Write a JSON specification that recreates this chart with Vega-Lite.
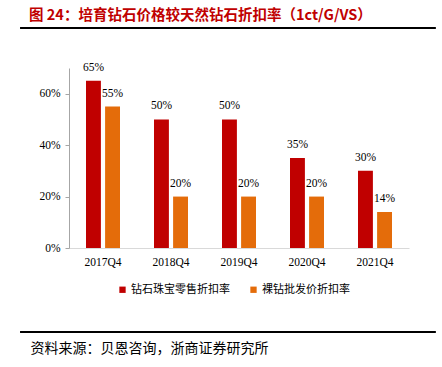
{
  "$schema": "https://vega.github.io/schema/vega-lite/v6.json",
  "width": 340,
  "height": 180,
  "autosize": {"type": "none"},
  "padding": {"left": 69, "top": 68, "right": 33, "bottom": 119},
  "background": "white",
  "config": {"view": {"stroke": null}, "font": "Liberation Serif"},
  "layer": [
    {
      "data": {
        "values": [
          {"period": "2017Q4", "series": "钻石珠宝零售折扣率", "value": 0.65},
          {"period": "2017Q4", "series": "裸钻批发价折扣率", "value": 0.55},
          {"period": "2018Q4", "series": "钻石珠宝零售折扣率", "value": 0.50},
          {"period": "2018Q4", "series": "裸钻批发价折扣率", "value": 0.20},
          {"period": "2019Q4", "series": "钻石珠宝零售折扣率", "value": 0.50},
          {"period": "2019Q4", "series": "裸钻批发价折扣率", "value": 0.20},
          {"period": "2020Q4", "series": "钻石珠宝零售折扣率", "value": 0.35},
          {"period": "2020Q4", "series": "裸钻批发价折扣率", "value": 0.20},
          {"period": "2021Q4", "series": "钻石珠宝零售折扣率", "value": 0.30},
          {"period": "2021Q4", "series": "裸钻批发价折扣率", "value": 0.14}
        ]
      },
      "layer": [
        {
          "mark": {"type": "bar"},
          "encoding": {
            "x": {
              "field": "period", "type": "nominal", "sort": null,
              "scale": {"paddingInner": 0.5, "paddingOuter": 0.25},
              "axis": {
                "title": "资料来源：贝恩咨询，浙商证券研究所",
                "titleFont": "Noto Sans CJK SC",
                "titleFontSize": 14,
                "titleFontWeight": "normal",
                "titleColor": "#000000",
                "titleAnchor": "start",
                "titleAlign": "left",
                "titleBaseline": "middle",
                "titleX": -39,
                "titleY": 100,
                "labelAngle": 0,
                "labelFont": "Liberation Serif",
                "labelFontSize": 11.5,
                "labelColor": "#000000",
                "labelPadding": 8,
                "ticks": false,
                "tickSize": 0,
                "domainColor": "#D9D9D9",
                "domainWidth": 1
              }
            },
            "xOffset": {
              "field": "series", "type": "nominal",
              "sort": ["钻石珠宝零售折扣率", "裸钻批发价折扣率"],
              "scale": {"paddingInner": 0.22, "paddingOuter": 0}
            },
            "y": {
              "field": "value", "type": "quantitative",
              "scale": {"domain": [0, 0.7], "nice": false},
              "axis": {
                "title": null,
                "values": [0, 0.1, 0.2, 0.3, 0.4, 0.5, 0.6, 0.7],
                "format": ".0%",
                "grid": false,
                "labelFont": "Liberation Serif",
                "labelFontSize": 11.5,
                "labelColor": "#000000",
                "labelPadding": 5,
                "tickSize": 4,
                "tickColor": "#A6A6A6",
                "domainColor": "#A6A6A6"
              }
            },
            "color": {
              "field": "series", "type": "nominal",
              "scale": {"domain": ["钻石珠宝零售折扣率", "裸钻批发价折扣率"], "range": ["#C00000", "#E46C0A"]},
              "legend": {
                "title": null,
                "orient": "none",
                "direction": "horizontal",
                "legendX": 48,
                "legendY": 216,
                "padding": 0,
                "symbolType": "square",
                "symbolSize": 40,
                "symbolStrokeWidth": 0,
                "labelFont": "Noto Sans CJK SC",
                "labelFontSize": 11,
                "labelColor": "#000000",
                "labelOffset": 3,
                "columnPadding": 18
              }
            }
          }
        },
        {
          "mark": {"type": "text", "dy": -10, "baseline": "alphabetic", "font": "Liberation Serif", "fontSize": 11.5, "color": "#000000"},
          "encoding": {
            "x": {"field": "period", "type": "nominal", "sort": null},
            "xOffset": {"field": "series", "type": "nominal", "sort": ["钻石珠宝零售折扣率", "裸钻批发价折扣率"]},
            "y": {"field": "value", "type": "quantitative"},
            "text": {"field": "value", "type": "quantitative", "format": ".0%"}
          }
        }
      ]
    },
    {
      "data": {"values": [{"edge": "bottom"}]},
      "mark": {"type": "rule", "color": "#000000", "strokeWidth": 2, "clip": false},
      "encoding": {
        "x": {"datum": -0.144, "type": "quantitative", "scale": {"domain": [0, 1], "nice": false, "zero": false}, "axis": null},
        "x2": {"datum": 1.079},
        "y": {"datum": -0.3267, "type": "quantitative", "scale": {"domain": [0, 0.7], "nice": false, "zero": false}, "axis": null}
      }
    },
    {
      "data": {"values": [{"edge": "top"}]},
      "mark": {"type": "rule", "color": "#000000", "strokeWidth": 2, "clip": false},
      "encoding": {
        "x": {"datum": -0.144, "type": "quantitative", "scale": {"domain": [0, 1], "nice": false, "zero": false}, "axis": null},
        "x2": {"datum": 1.079},
        "y": {"datum": 0.8556, "type": "quantitative", "scale": {"domain": [0, 0.7], "nice": false, "zero": false}, "axis": null}
      }
    },
    {
      "data": {"values": [{"label": "图 24：培育钻石价格较天然钻石折扣率（1ct/G/VS）"}]},
      "mark": {"type": "text", "align": "left", "baseline": "middle", "font": "Noto Sans CJK SC", "fontSize": 14.5, "fontWeight": "bold", "color": "#C00000"},
      "encoding": {
        "x": {"datum": -0.1176, "type": "quantitative", "scale": {"domain": [0, 1], "nice": false, "zero": false}, "axis": null},
        "y": {"datum": 0.9034, "type": "quantitative", "scale": {"domain": [0, 0.7], "nice": false, "zero": false}, "axis": null},
        "text": {"field": "label", "type": "nominal"}
      }
    }
  ],
  "resolve": {"scale": {"x": "independent", "y": "independent", "xOffset": "independent"}}
}
